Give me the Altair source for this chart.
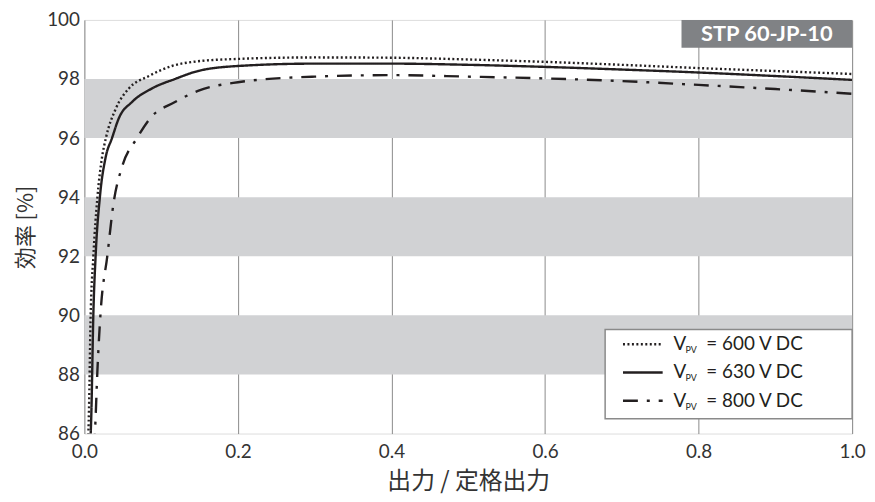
import altair as alt
import pandas as pd

# ---- data ----
x600 = [0.0045, 0.006, 0.008, 0.0117, 0.017, 0.023, 0.028, 0.041, 0.058, 0.084, 0.114, 0.148, 0.2, 0.3, 0.4, 0.5, 0.6, 0.7, 0.8, 0.9, 1.0]
y600 = [85.5, 86.8, 89.8, 92.0, 94.0, 95.35, 96.0, 97.0, 97.68, 98.1, 98.44, 98.6, 98.68, 98.73, 98.72, 98.66, 98.58, 98.48, 98.37, 98.27, 98.17]

x630 = [0.0075, 0.009, 0.0117, 0.0147, 0.0203, 0.0277, 0.036, 0.045, 0.062, 0.088, 0.118, 0.148, 0.2, 0.3, 0.4, 0.5, 0.6, 0.7, 0.8, 0.9, 1.0]
y630 = [85.5, 86.6, 90.05, 92.04, 94.03, 95.35, 96.0, 96.68, 97.22, 97.68, 98.0, 98.27, 98.44, 98.52, 98.52, 98.48, 98.41, 98.32, 98.22, 98.1, 97.97]

x800 = [0.0125, 0.0138, 0.017, 0.021, 0.030, 0.038, 0.049, 0.0686, 0.086, 0.118, 0.148, 0.2, 0.3, 0.4, 0.5, 0.6, 0.7, 0.8, 0.9, 1.0]
y800 = [85.5, 86.06, 88.15, 90.05, 92.04, 93.8, 95.02, 96.0, 96.68, 97.22, 97.6, 97.89, 98.08, 98.13, 98.08, 98.02, 97.93, 97.8, 97.66, 97.5]

series_names = ["600", "630", "800"]
legend_values = ["= 600 V DC", "= 630 V DC", "= 800 V DC"]
band_lo = [88, 92, 96]
band_hi = [90, 94, 98]
x_ticks = [0.0, 0.2, 0.4, 0.6, 0.8, 1.0]
y_ticks = [86, 88, 90, 92, 94, 96, 98, 100]
model_label = "STP 60-JP-10"
x_title = "出力 / 定格出力"
y_title = "効率 [%]"

# ---- styling ----
W, H = 774, 417
INK = "#231f20"
dashes = {"600": [2, 2.5], "630": [1, 0], "800": [15, 9, 3, 9]}
FONT = "Lato"
CJK = "Noto Sans CJK JP"

xs = alt.Scale(domain=[0, 1], nice=False)
ys = alt.Scale(domain=[86, 100], nice=False)

bands = pd.DataFrame({"lo": band_lo, "hi": band_hi})
band_layer = alt.Chart(bands).mark_rect(color="#d1d2d4").encode(
    x=alt.value(0), x2=alt.value(W),
    y=alt.Y("lo:Q", scale=ys), y2="hi:Q",
)

axes_layer = alt.Chart(pd.DataFrame({"x": [0.0], "y": [86]})).mark_point(opacity=0).encode(
    x=alt.X("x:Q", scale=xs, title=x_title,
            axis=alt.Axis(values=x_ticks, format=".1f", grid=True, gridColor="#8a8a8a",
                          gridWidth=1, ticks=False, domain=False, labelPadding=9,
                          labelFontSize=19, labelFont=FONT, labelColor="#333333",
                          titleFont=CJK, titleFontSize=24, titleFontWeight="normal",
                          titleColor="#333333", titlePadding=8,
                          labelFlush=False)),
    y=alt.Y("y:Q", scale=ys, title=y_title,
            axis=alt.Axis(values=y_ticks, grid=False, ticks=False, domain=False,
                          labelPadding=5, labelFontSize=19, labelFont=FONT,
                          labelColor="#333333", titleFont=CJK, titleFontSize=22,
                          titleFontWeight="normal", titleColor="#333333",
                          titlePadding=9, labelFlush=False)),
)

line_layers = []
for name, xv, yv in [("600", x600, y600), ("630", x630, y630), ("800", x800, y800)]:
    df = pd.DataFrame({"x": xv, "y": yv})
    line_layers.append(
        alt.Chart(df).mark_line(color=INK, strokeWidth=2.4, strokeDash=dashes[name],
                                interpolate="monotone", clip=True).encode(
            x=alt.X("x:Q", scale=xs), y=alt.Y("y:Q", scale=ys)))

# model label box
box = alt.Chart(pd.DataFrame({"t": [model_label]})).mark_rect(color="#808285").encode(
    x=alt.value(602), x2=alt.value(W), y=alt.value(0), y2=alt.value(28))
box_text = alt.Chart(pd.DataFrame({"t": [model_label]})).mark_text(
    color="white", font=FONT, fontWeight="bold", fontSize=22, align="center",
    baseline="middle").encode(text="t:N", x=alt.value(688), y=alt.value(14))

# legend
leg_box = alt.Chart(pd.DataFrame({"t": ["legend"]})).mark_rect(
    fill="white", stroke="#8a8a8a", strokeWidth=1.5).encode(
    x=alt.value(525), x2=alt.value(W), y=alt.value(312), y2=alt.value(402))
legend_layers = [leg_box]
for i, (name, lab) in enumerate(zip(series_names, legend_values)):
    yy = 327 + i * 28.5
    legend_layers.append(
        alt.Chart(pd.DataFrame({"s": [name]})).mark_rule(
            color=INK, strokeWidth=2.4, strokeDash=dashes[name]).encode(
            x=alt.value(543), x2=alt.value(583), y=alt.value(yy)))
    legend_layers.append(
        alt.Chart(pd.DataFrame({"t": ["V"]})).mark_text(
            font=FONT, fontSize=19, color=INK, align="left", baseline="middle").encode(
            text="t:N", x=alt.value(594), y=alt.value(yy)))
    legend_layers.append(
        alt.Chart(pd.DataFrame({"t": ["PV"]})).mark_text(
            font=FONT, fontSize=9, color=INK, align="left", baseline="middle").encode(
            text="t:N", x=alt.value(606), y=alt.value(yy + 6)))
    legend_layers.append(
        alt.Chart(pd.DataFrame({"t": [lab]})).mark_text(
            font=FONT, fontSize=19, color=INK, align="left", baseline="middle").encode(
            text="t:N", x=alt.value(627), y=alt.value(yy)))

chart = alt.layer(band_layer, axes_layer, *line_layers, box, box_text, *legend_layers).properties(
    width=W, height=H,
    autosize=alt.AutoSizeParams(type="none"),
    padding={"left": 77, "top": 10, "right": 15, "bottom": 66},
).configure_view(stroke="#8a8a8a", strokeWidth=1.8).configure(background="white")

chart.save("out.html", embed_options={"renderer": "svg", "actions": False})
